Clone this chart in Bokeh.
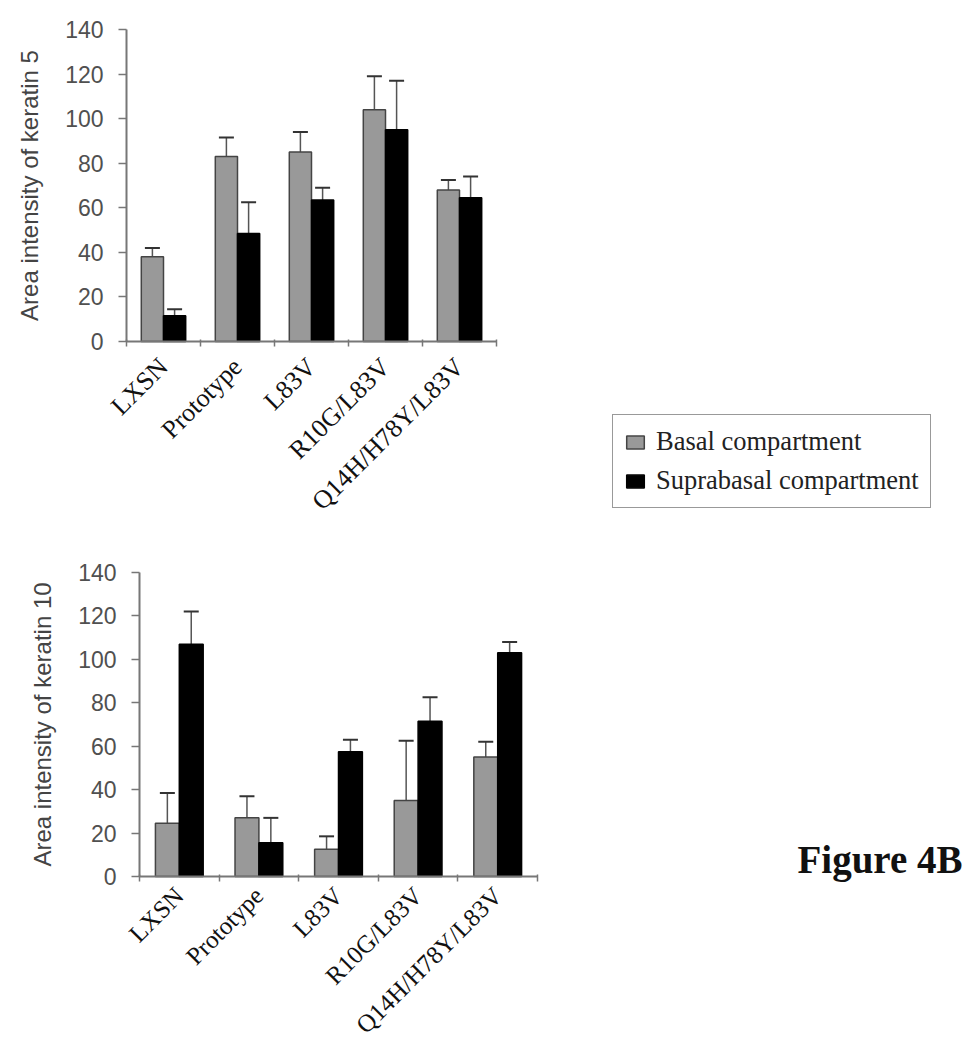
import math
from bokeh.plotting import figure
from bokeh.models import (ColumnDataSource, Range1d, FixedTicker,
                          Whisker, TeeHead, Legend, LegendItem, Label)
from bokeh.layouts import column
from bokeh.embed import file_html
from bokeh.resources import INLINE

# ---------------- data ----------------
categories = ["LXSN", "Prototype", "L83V", "R10G/L83V", "Q14H/H78Y/L83V"]

k5_basal = [38, 83, 85, 104, 68]
k5_basal_err = [4, 8.5, 9, 15, 4.5]
k5_supra = [11.5, 48.5, 63.5, 95, 64.5]
k5_supra_err = [3, 14, 5.5, 22, 9.5]

k10_basal = [24.5, 27, 12.5, 35, 55]
k10_basal_err = [14, 10, 6, 27.5, 7]
k10_supra = [107, 15.5, 57.5, 71.5, 103]
k10_supra_err = [15, 11.5, 5.5, 11, 5]

y_ticks = [0, 20, 40, 60, 80, 100, 120, 140]
series_names = ["Basal compartment", "Suprabasal compartment"]

GRAY = "#999999"
BLACK = "#000000"
SANS = "Liberation Sans"
SERIF = "Liberation Serif"
W = 974


def make_chart(basal, basal_err, supra, supra_err, ytitle, height,
               ax_left, ax_right, ax_top, ax_bottom, xlab_size, xlab_std):
    """ax_* : pixel position of the chart area inside the figure canvas"""
    ncat = len(categories)
    ymax = y_ticks[-1]
    xs_px = (ax_right - ax_left) / ncat
    ys_px = (ax_bottom - ax_top) / ymax
    x_range = Range1d(-ax_left / xs_px, (W - ax_left) / xs_px)
    y_range = Range1d(-(height - ax_bottom) / ys_px, ymax + ax_top / ys_px)

    p = figure(width=W, height=height, output_backend="svg", toolbar_location=None,
               x_range=x_range, y_range=y_range,
               min_border_left=0, min_border_right=0,
               min_border_top=0, min_border_bottom=0)
    p.outline_line_color = None
    p.grid.visible = False

    centers = [i + 0.5 for i in range(ncat)]
    bw = 0.3
    xb = [c - bw / 2 for c in centers]
    xs = [c + bw / 2 for c in centers]

    src_b = ColumnDataSource(dict(x=xb, top=basal, up=[v + e for v, e in zip(basal, basal_err)]))
    src_s = ColumnDataSource(dict(x=xs, top=supra, up=[v + e for v, e in zip(supra, supra_err)]))

    for src in (src_b, src_s):
        w = Whisker(source=src, base="x", lower="top", upper="up", dimension="height",
                    line_color="#555555", line_width=1.5,
                    upper_head=TeeHead(size=15, line_color="#333333", line_width=2),
                    lower_head=None)
        p.add_layout(w)

    rb = p.vbar(x="x", top="top", width=bw, bottom=0, source=src_b,
                fill_color=GRAY, line_color="#444444", line_width=1.5)
    rs = p.vbar(x="x", top="top", width=bw, bottom=0, source=src_s,
                fill_color=BLACK, line_color=BLACK, line_width=1.5)

    # y axis (placed at x = 0)
    ya = p.yaxis[0]
    ya.fixed_location = 0
    ya.bounds = (0, ymax)
    ya.ticker = FixedTicker(ticks=y_ticks)
    ya.minor_tick_line_color = None
    ya.major_tick_out = 8
    ya.major_tick_in = 0
    ya.axis_line_color = "#777777"
    ya.axis_line_width = 2
    ya.major_tick_line_color = "#777777"
    ya.major_tick_line_width = 1.5
    ya.major_label_text_font = SANS
    ya.major_label_text_font_size = "23px"
    ya.major_label_text_color = "#505050"
    ya.major_label_standoff = 15
    ya.axis_label = ytitle
    ya.axis_label_text_font = SANS
    ya.axis_label_text_font_style = "normal"
    ya.axis_label_text_font_size = "24px"
    ya.axis_label_text_color = "#444444"
    ya.axis_label_standoff = 19

    # x axis (placed at y = 0): labels at centres, tick marks at category boundaries
    xa = p.xaxis[0]
    xa.fixed_location = 0
    xa.bounds = (0, ncat)
    xa.ticker = FixedTicker(ticks=centers, minor_ticks=list(range(ncat + 1)))
    xa.major_label_overrides = {c: name for c, name in zip(centers, categories)}
    xa.major_tick_out = 0
    xa.major_tick_in = 0
    xa.minor_tick_out = 5
    xa.minor_tick_in = 2
    xa.minor_tick_line_color = "#777777"
    xa.minor_tick_line_width = 1.5
    xa.axis_line_color = "#777777"
    xa.axis_line_width = 2
    xa.major_label_orientation = math.pi / 4
    xa.major_label_text_font = SERIF
    xa.major_label_text_font_size = xlab_size
    xa.major_label_text_color = "#111111"
    xa.major_label_standoff = xlab_std
    return p, rb, rs


# top chart: canvas spans page y 0..545
top_p, rb, rs = make_chart(k5_basal, k5_basal_err, k5_supra, k5_supra_err,
                           "Area intensity of keratin 5", 545,
                           126, 496, 29, 341, "26px", 16)

legend = Legend(items=[LegendItem(label=series_names[0], renderers=[rb]),
                       LegendItem(label=series_names[1], renderers=[rs])],
                location=(612, 37), orientation="vertical",
                label_text_font=SERIF, label_text_font_size="26.5px",
                label_text_color="#222222",
                glyph_width=22, glyph_height=16, label_standoff=10,
                label_height=30, spacing=8, padding=11, margin=0,
                border_line_color="#333333", border_line_width=1.5,
                background_fill_color="white", background_fill_alpha=1.0)
top_p.add_layout(legend, "center")

# bottom chart: canvas spans page y 545..1049
bot_p, _, _ = make_chart(k10_basal, k10_basal_err, k10_supra, k10_supra_err,
                         "Area intensity of keratin 10", 504,
                         139, 537, 27, 331, "25px", 10)

fig_label = Label(x=797, y=190, x_units="screen", y_units="screen", text="Figure 4B",
                  text_font=SERIF, text_font_style="bold", text_font_size="39px",
                  text_color="#111111", text_baseline="alphabetic")
bot_p.add_layout(fig_label)

layout = column(top_p, bot_p, spacing=0)
open("out.html", "w").write(file_html(layout, INLINE))
